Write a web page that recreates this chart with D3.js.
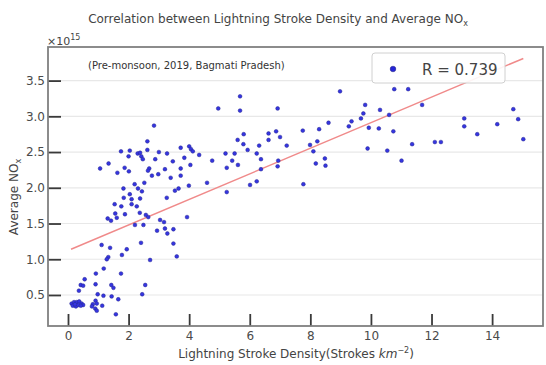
<!DOCTYPE html>
<html>
<head>
<meta charset="utf-8">
<script src="https://cdnjs.cloudflare.com/ajax/libs/d3/7.8.5/d3.min.js"></script>
<style>
  body { margin: 0; background: #ffffff; }
  text { font-family: "DejaVu Sans", sans-serif; }
</style>
</head>
<body>
<div id="chart"></div>
<script>
// lightning stroke density (strokes km^-2)
var density = [
  2.84,2.62,1.75,2.04,2.30,2.38,2.42,2.47,2.62,3.00,
  3.27,3.72,4.00,4.06,4.12,4.33,2.00,2.88,3.46,3.84,
  1.06,1.34,1.63,1.87,2.01,2.68,2.64,2.98,2.77,3.20,
  3.72,4.04,3.39,3.72,4.59,2.20,2.52,1.83,2.31,2.44,
  3.99,3.65,3.53,2.04,1.84,2.10,2.38,3.26,1.54,1.76,
  2.10,2.27,1.56,1.88,2.37,1.31,1.61,2.57,2.65,3.93,
  1.42,3.04,3.17,2.21,2.49,2.94,3.20,3.28,3.48,1.11,
  1.39,2.41,3.48,1.94,1.78,1.33,1.28,3.59,2.71,1.18,
  0.92,1.75,0.55,0.42,0.50,0.91,1.43,1.50,0.36,0.98,
  1.17,1.44,1.66,2.55,2.45,0.91,0.95,0.82,0.79,0.90,
  0.95,1.13,0.12,0.20,0.29,0.37,0.45,0.50,0.16,0.26,
  0.34,0.42,0.23,1.58,
  8.98,5.68,5.68,4.96,6.92,9.81,9.75,9.67,9.36,9.27,
  10.30,10.77,10.60,8.60,9.93,10.26,10.74,7.75,8.29,5.80,
  5.60,5.79,6.62,6.87,6.62,7.00,8.23,7.99,7.22,6.31,
  6.23,6.37,5.93,5.20,5.50,5.42,8.10,9.89,10.54,4.76,
  5.61,5.24,6.94,6.92,8.48,8.50,8.18,6.37,6.23,6.01,
  7.77,5.24,
  11.23,11.69,11.01,11.36,12.11,12.31,13.08,13.08,13.51,14.17,
  14.70,14.86,15.03
];

// average NOx (x10^15)
var avgNOx = [
  2.87,2.65,2.51,2.52,2.48,2.49,2.44,2.40,2.53,2.50,
  2.48,2.56,2.58,2.54,2.51,2.46,2.44,2.40,2.37,2.42,
  2.27,2.34,2.21,2.28,2.23,2.27,2.24,2.19,2.17,2.26,
  2.27,2.32,2.14,2.17,2.07,2.05,2.07,1.99,1.99,1.95,
  2.03,1.99,1.96,1.91,1.86,1.84,1.85,1.86,1.77,1.74,
  1.77,1.74,1.64,1.63,1.65,1.57,1.58,1.62,1.59,1.59,
  1.54,1.55,1.52,1.48,1.48,1.40,1.43,1.36,1.42,1.20,
  1.16,1.23,1.22,1.14,1.06,1.03,1.00,1.04,0.99,0.87,
  0.80,0.80,0.72,0.64,0.63,0.65,0.64,0.60,0.56,0.51,
  0.49,0.48,0.44,0.64,0.51,0.42,0.38,0.37,0.34,0.31,
  0.28,0.35,0.38,0.40,0.40,0.41,0.38,0.36,0.35,0.34,
  0.36,0.35,0.37,0.23,
  3.35,3.28,3.08,3.11,3.11,3.16,3.04,2.97,2.93,2.86,
  3.09,3.38,3.02,2.91,2.84,2.83,2.79,2.80,2.82,2.75,
  2.67,2.61,2.76,2.79,2.67,2.71,2.65,2.60,2.59,2.59,
  2.48,2.40,2.53,2.48,2.48,2.38,2.51,2.55,2.52,2.38,
  2.32,2.28,2.38,2.30,2.41,2.31,2.34,2.26,2.09,2.04,
  2.05,1.94,
  3.38,3.16,2.38,2.61,2.64,2.64,2.97,2.86,2.75,2.89,
  3.10,2.96,2.68
];

// regression line end points
var fitX = [0.10, 15.03];
var fitY = [1.14, 3.81];

var xTicks = [0, 2, 4, 6, 8, 10, 12, 14];
var yTicks = [0.5, 1.0, 1.5, 2.0, 2.5, 3.0, 3.5];
var rText = "R = 0.739";

var margin = { top: 47, right: 3, bottom: 39, left: 48 },
    width = 546 - margin.left - margin.right,
    height = 365 - margin.top - margin.bottom;

var svg = d3.select("#chart").append("svg")
    .attr("width", 546)
    .attr("height", 365);

var g = svg.append("g")
    .attr("transform", "translate(" + margin.left + "," + margin.top + ")");

var x = d3.scaleLinear().domain([-0.66, 15.68]).range([0, width]);
var y = d3.scaleLinear().domain([0.066, 3.97]).range([height, 0]);

// horizontal grid
g.selectAll(".grid")
    .data(yTicks)
    .enter().append("line")
    .attr("class", "grid")
    .attr("x1", 0)
    .attr("x2", width)
    .attr("y1", function (d) { return y(d); })
    .attr("y2", function (d) { return y(d); })
    .attr("stroke", "#e8e8e8")
    .attr("stroke-width", 1.2);

// fit line
g.append("line")
    .attr("x1", x(fitX[0])).attr("y1", y(fitY[0]))
    .attr("x2", x(fitX[1])).attr("y2", y(fitY[1]))
    .attr("stroke", "#f08a8a")
    .attr("stroke-width", 1.5);

// points
var pts = density.map(function (d, i) { return { x: d, y: avgNOx[i] }; });
g.selectAll(".dot")
    .data(pts)
    .enter().append("circle")
    .attr("class", "dot")
    .attr("cx", function (d) { return x(d.x); })
    .attr("cy", function (d) { return y(d.y); })
    .attr("r", 1.9)
    .attr("fill", "#3535e0")
    .attr("stroke", "#262690")
    .attr("stroke-width", 0.5);

// axes, ticks pointing inward
var xAxis = d3.axisBottom(x).tickValues(xTicks).tickFormat(d3.format("d"))
    .tickSize(-12).tickPadding(5);
var yAxis = d3.axisLeft(y).tickValues(yTicks).tickFormat(d3.format(".1f"))
    .tickSize(-13).tickPadding(3);

var gx = g.append("g")
    .attr("transform", "translate(0," + height + ")")
    .call(xAxis);
var gy = g.append("g").call(yAxis);

[gx, gy].forEach(function (a) {
    a.select(".domain").remove();
    a.selectAll(".tick line").attr("stroke", "#3a3a3a").attr("stroke-width", 1.8);
    a.selectAll(".tick text")
        .style("font-size", "12px")
        .style("font-family", "DejaVu Sans")
        .attr("fill", "#4a4a4a");
});

// frame
g.append("rect")
    .attr("x", 0).attr("y", 0)
    .attr("width", width).attr("height", height)
    .attr("fill", "none")
    .attr("stroke", "#808080")
    .attr("stroke-width", 1.8);

// annotation
g.append("text")
    .attr("x", x(0.66))
    .attr("y", 22)
    .style("font-size", "10px")
    .attr("fill", "#333")
    .text("(Pre-monsoon, 2019, Bagmati Pradesh)");

// legend box
var leg = g.append("g").attr("transform", "translate(" + (372 - margin.left) + "," + (53 - margin.top) + ")");
leg.append("rect")
    .attr("width", 133).attr("height", 30)
    .attr("rx", 3)
    .attr("fill", "#fff")
    .attr("fill-opacity", 0.9)
    .attr("stroke", "#d0d0d0");
leg.append("circle")
    .attr("cx", 21).attr("cy", 16)
    .attr("r", 2.8)
    .attr("fill", "#2525d8")
    .attr("stroke", "#1c1c7a")
    .attr("stroke-width", 0.5);
leg.append("text")
    .attr("x", 50).attr("y", 21.5)
    .style("font-size", "15px")
    .attr("fill", "#444")
    .text(rText);

// title
var title = svg.append("text")
    .attr("x", 278).attr("y", 23)
    .attr("text-anchor", "middle")
    .style("font-size", "12px")
    .attr("fill", "#444")
    .text("Correlation between Lightning Stroke Density and Average NO");
title.append("tspan").attr("dy", 3).style("font-size", "8px").text("x");

// offset text
var off = svg.append("text")
    .attr("x", 47).attr("y", 45)
    .style("font-size", "11px")
    .attr("fill", "#444")
    .text("\u00d710");
off.append("tspan").attr("dy", -5).style("font-size", "8px").text("15");

// y label
var ylab = svg.append("text")
    .attr("transform", "translate(18,197) rotate(-90)")
    .attr("text-anchor", "middle")
    .style("font-size", "12px")
    .attr("fill", "#444")
    .text("Average NO");
ylab.append("tspan").attr("dy", 3).style("font-size", "8px").text("x");

// x label
var xlab = svg.append("text")
    .attr("x", 296).attr("y", 358)
    .attr("text-anchor", "middle")
    .style("font-size", "12px")
    .attr("fill", "#444")
    .text("Lightning Stroke Density(Strokes ");
xlab.append("tspan").style("font-style", "italic").text("km");
xlab.append("tspan").attr("dy", -5).style("font-size", "8px").text("\u22122");
xlab.append("tspan").attr("dy", 5).text(")");
</script>
</body>
</html>
